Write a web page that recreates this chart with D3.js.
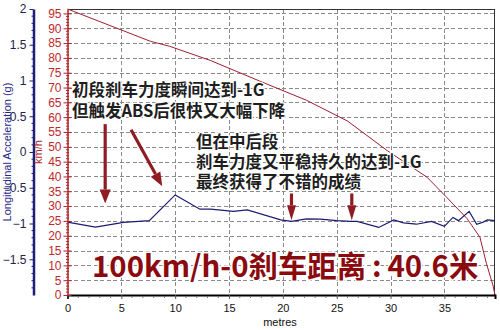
<!DOCTYPE html>
<html>
<head>
<meta charset="utf-8">
<script src="https://cdn.jsdelivr.net/npm/d3@7/dist/d3.min.js"></script>
<style>
  html, body { margin: 0; padding: 0; background: #fff; }
  svg { display: block; }
</style>
</head>
<body>
<script>
// Braking test: speed (km/h) and longitudinal acceleration (g) against distance (metres)
const speedDist = [0, 7.7, 9.5, 13.3, 17.9, 22.2, 26.0, 29.7, 33.4, 35.2, 37.1, 38.3, 38.9, 39.5, 39.7];
const speedKmh  = [96.5, 85.6, 83.9, 79.1, 72.1, 65.7, 58.7, 48.7, 39.7, 33.0, 25.8, 19.5, 10.7, 3.4, 0];

const accDist = [0, 2.6, 5.2, 7.6, 10.0, 12.3, 13.3, 15.4, 16.7, 19.8, 20.8, 22.2, 23.5, 25.0, 26.3,
                 26.9, 28.9, 30.3, 31.2, 32.4, 33.8, 35.0, 35.8, 36.3, 37.3, 38.0, 38.6, 39.0, 39.7];
const accG    = [-0.98, -1.05, -0.985, -0.96, -0.60, -0.80, -0.80, -0.83, -0.81, -0.95, -0.97, -0.935, -0.94, -0.96, -0.97,
                 -0.97, -1.055, -0.95, -0.99, -1.01, -0.97, -1.04, -0.915, -0.96, -0.83, -1.01, -0.98, -0.95, -0.96];

const distTicks  = [0, 5, 10, 15, 20, 25, 30, 35];
const gTicks     = [-1.5, -1, -0.5, 0, 0.5, 1, 1.5, 2];
const speedTicks = d3.range(0, 96, 5);

// Annotation arrows, in metres / g
const arrows = [
  { x1: 3.5,  y1: 0.39,  x2: 3.5,  y2: -0.72, head: 14, half: 5.5 },
  { x1: 5.9,  y1: 0.31,  x2: 8.8,  y2: -0.48, head: 14, half: 5.5 },
  { x1: 20.8, y1: -0.58, x2: 20.8, y2: -0.955, head: 15, half: 4.5 },
  { x1: 26.4, y1: -0.58, x2: 26.4, y2: -0.955, head: 15, half: 4.5 }
];
const noteA = ["初段刹车力度瞬间达到-1G", "但触发ABS后很快又大幅下降"];
const noteB = ["但在中后段", "刹车力度又平稳持久的达到-1G", "最终获得了不错的成绩"];
const headline = "100km/h-0刹车距离\u2009:\u200940.6米";

const W = 500, H = 330;
const L = 67.5, R = 495, T = 9, B = 295;

const x  = d3.scaleLinear().domain([0, 39.7]).range([L, R]);
const yG = d3.scaleLinear().domain([-2, 2]).range([B, T]);
const yV = d3.scaleLinear().domain([0, 96.5]).range([B, T]);

const svg = d3.select("body").append("svg").attr("width", W).attr("height", H);

// dashed grid
const grid = svg.append("g").attr("stroke", "#8a8a8a").attr("stroke-width", 1)
  .attr("stroke-dasharray", "4,2.5").attr("shape-rendering", "crispEdges");
grid.selectAll("line.v").data(distTicks.filter(d => d > 0)).join("line")
  .attr("x1", d => Math.round(x(d)) + 0.5).attr("x2", d => Math.round(x(d)) + 0.5)
  .attr("y1", T).attr("y2", B);
grid.selectAll("line.h").data(speedTicks.filter(d => d > 0)).join("line")
  .attr("x1", L).attr("x2", R)
  .attr("y1", d => Math.round(yV(d)) + 0.5).attr("y2", d => Math.round(yV(d)) + 0.5);

// frame (top and right)
svg.append("path")
  .attr("d", `M${L},${T + 0.5}H${R - 0.5}V${B}`)
  .attr("fill", "none").attr("stroke", "#333").attr("stroke-width", 1)
  .attr("shape-rendering", "crispEdges");

// series
svg.append("path")
  .datum(speedDist.map((d, i) => [d, speedKmh[i]]))
  .attr("fill", "none").attr("stroke", "#9e1f33").attr("stroke-width", 1)
  .attr("d", d3.line().x(d => x(d[0])).y(d => yV(d[1])));

svg.append("path")
  .datum(accDist.map((d, i) => [d, accG[i]]))
  .attr("fill", "none").attr("stroke", "#1b1b70").attr("stroke-width", 1.2)
  .attr("d", d3.line().x(d => x(d[0])).y(d => yG(d[1])));

// x axis
const xAxis = svg.append("g").attr("transform", `translate(0,${B})`)
  .call(d3.axisBottom(x).tickValues(distTicks).tickSize(4).tickPadding(5).tickFormat(d3.format("d")));
xAxis.select(".domain").attr("stroke", "#000").attr("stroke-width", 2);
xAxis.selectAll(".tick line").attr("stroke", "#555");
xAxis.selectAll(".tick text").attr("font-family", "Liberation Sans, Arial, sans-serif")
  .attr("font-size", 11).attr("fill", "#111");
svg.append("g").attr("stroke", "#777").selectAll("line")
  .data(d3.range(1, 40).filter(d => d % 5 !== 0)).join("line")
  .attr("x1", d => x(d)).attr("x2", d => x(d)).attr("y1", B + 1).attr("y2", B + 3);

// g axis (outer left)
const gX = 33.5;
const gAxis = svg.append("g").attr("transform", `translate(${gX},0)`)
  .call(d3.axisLeft(yG).tickValues(gTicks).tickSize(4).tickPadding(3).tickSizeOuter(0).tickFormat(d3.format("")));
gAxis.select(".domain").attr("stroke", "#1f1f7a").attr("stroke-width", 2.5);
gAxis.selectAll(".tick line").attr("stroke", "#1f1f7a");
gAxis.selectAll(".tick text").attr("font-family", "Liberation Sans, Arial, sans-serif")
  .attr("font-size", 12).attr("fill", "#22224a");
svg.append("g").attr("stroke", "#1f1f7a").selectAll("line")
  .data(d3.range(-19, 20).map(d => d / 10).filter(d => Math.abs(d * 2 - Math.round(d * 2)) > 1e-6)).join("line")
  .attr("x1", gX - 2).attr("x2", gX).attr("y1", d => yG(d)).attr("y2", d => yG(d));

// km/h axis (inner left)
const vAxis = svg.append("g").attr("transform", `translate(${L},0)`)
  .call(d3.axisLeft(yV).tickValues(speedTicks).tickSize(4).tickPadding(2).tickSizeOuter(0));
vAxis.select(".domain").attr("stroke", "#b0232a").attr("stroke-width", 1.5);
vAxis.selectAll(".tick line").attr("stroke", "#b0232a").attr("x2", -4).attr("x1", 4);
vAxis.selectAll(".tick text").attr("font-family", "Liberation Sans, Arial, sans-serif")
  .attr("font-size", 12).attr("fill", "#c0282d");
svg.append("g").attr("stroke", "#b0232a").selectAll("line")
  .data(d3.range(1, 96).filter(d => d % 5 !== 0)).join("line")
  .attr("x1", L - 1.5).attr("x2", L + 1.5).attr("y1", d => yV(d)).attr("y2", d => yV(d));

// axis titles
svg.append("text").attr("transform", `translate(11,${yG(0)}) rotate(-90)`)
  .attr("text-anchor", "middle").attr("font-family", "Liberation Sans, Arial, sans-serif")
  .attr("font-size", 11).attr("fill", "#26268a").text("Longitudinal Acceleration (g)");
svg.append("text").attr("transform", `translate(42,${yG(0)}) rotate(-90)`)
  .attr("text-anchor", "middle").attr("font-family", "Liberation Sans, Arial, sans-serif")
  .attr("font-size", 11).attr("fill", "#b0232a").text("km/h");
svg.append("text").attr("x", 280).attr("y", 326)
  .attr("text-anchor", "middle").attr("font-family", "Liberation Sans, Arial, sans-serif")
  .attr("font-size", 11).attr("fill", "#111").text("metres");

// arrows
const arrowG = svg.append("g").attr("fill", "#8e1c22").attr("stroke", "#8e1c22");
arrows.forEach(a => {
  const x1 = x(a.x1), y1 = yG(a.y1), x2 = x(a.x2), y2 = yG(a.y2);
  const dx = x2 - x1, dy = y2 - y1, len = Math.hypot(dx, dy);
  const ux = dx / len, uy = dy / len;
  const bx = x2 - ux * a.head, by = y2 - uy * a.head;
  arrowG.append("line").attr("x1", x1).attr("y1", y1).attr("x2", bx).attr("y2", by)
    .attr("stroke-width", 3.2);
  arrowG.append("path").attr("stroke", "none")
    .attr("d", `M${x2},${y2}L${bx - uy * a.half},${by + ux * a.half}L${bx + uy * a.half},${by - ux * a.half}Z`);
});

// notes: one text block per note, one tspan per line
const cjk = "'Noto Sans CJK SC', 'Noto Sans', sans-serif";
function note(lines, x0, y0, dy) {
  svg.append("text")
    .attr("x", x0).attr("y", y0)
    .attr("font-family", cjk).attr("font-weight", 700).attr("font-size", 16.5)
    .attr("fill", "#1e1e1e").attr("stroke", "#fff").attr("stroke-width", 2.5)
    .attr("stroke-linejoin", "round").attr("paint-order", "stroke")
    .selectAll("tspan").data(lines).join("tspan")
    .attr("x", x0).attr("dy", (d, i) => i === 0 ? 0 : dy)
    .text(d => d);
}
note(noteA, 72, 96, 20.5);
note(noteB, 196, 147.5, 20);

// headline
svg.append("text").attr("x", 92).attr("y", 277)
  .attr("font-family", cjk).attr("font-weight", 700).attr("font-size", 29.4)
  .attr("fill", "#8a0a0e").attr("stroke", "#fff").attr("stroke-width", 3)
  .attr("stroke-linejoin", "round").attr("paint-order", "stroke")
  .text(headline);
</script>
</body>
</html>
